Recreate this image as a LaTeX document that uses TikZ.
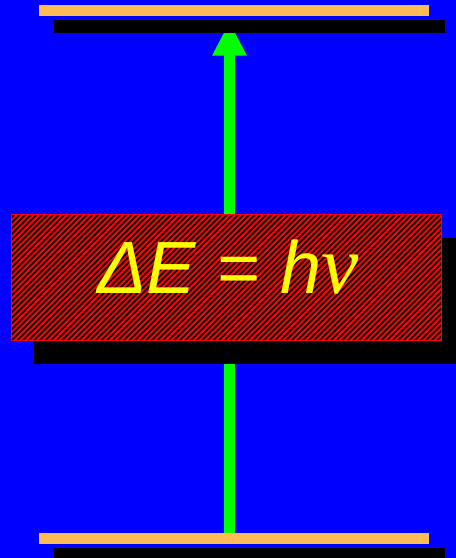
\documentclass[tikz,border=0pt]{standalone}
\usepackage{fontspec}
\setmainfont{Liberation Sans}
\newfontfamily\serifit{Liberation Serif}[ItalicFont=* Italic]
\usetikzlibrary{arrows.meta}
\definecolor{bgblue}{RGB}{0,0,255}
\definecolor{barorange}{RGB}{255,187,85}
\definecolor{arrowgreen}{RGB}{0,255,0}
\definecolor{eqyellow}{RGB}{255,255,0}
\definecolor{boxred}{RGB}{255,0,0}
\pgfdeclarelayer{bg}
\pgfsetlayers{bg,main}
\begin{document}
\begin{tikzpicture}[x=1pt,y=-1pt,
  plain/.style={rectangle,inner sep=0pt,outer sep=0pt,draw=none},
  bar/.style={plain,fill=barorange,minimum width=390pt,minimum height=11pt},
  shadowbar/.style={plain,fill=black,minimum width=391pt,minimum height=12.5pt},
  hatch/.style={black,line width=1.7pt},
  eqfont/.style={font=\fontsize{74}{80}\selectfont\itshape,inner sep=0pt}]
\useasboundingbox (0,0) rectangle (456,558);
\begin{pgfonlayer}{bg}
  \fill[bgblue] (0,0) rectangle (456,558);
\end{pgfonlayer}
% bars
\node[shadowbar] (topshadow) at (249.5,26.25) {};
\node[bar] (topbar) at (234,10.5) {};
\node[shadowbar,minimum height=10pt] (botshadow) at (249.5,553) {};
\node[bar,minimum height=10.7pt] (botbar) at (234,538.3) {};
\coordinate (tip) at (229.5,21.5);
% box
\node[plain,fill=black,minimum width=422pt,minimum height=126pt] (boxshadow) at (245,301) {};
\node[plain,fill=boxred,minimum width=430pt,minimum height=126pt] (box) at (226.5,277.5) {};
\begin{scope}
  \clip (box.south west) rectangle (box.north east);
  \foreach \x in {-130,-124.4,...,450}
    \draw[hatch] (\x,342) -- (\x+130,212);
\end{scope}
\draw[boxred,line width=1.5pt] (box.south west) rectangle (box.north east);
% equation
\node[eqfont,text=eqyellow,anchor=base] (eq) at (228,293)
  {ΔE = h{\serifit\fontsize{84}{90}\selectfont\itshape ν}};
% arrow
\begin{pgfonlayer}{bg}
  \draw[arrowgreen,line width=11pt,-{Triangle[width=32pt,length=34pt]}]
    (botbar.north -| tip) -- (tip);
\end{pgfonlayer}
\end{tikzpicture}
\end{document}
